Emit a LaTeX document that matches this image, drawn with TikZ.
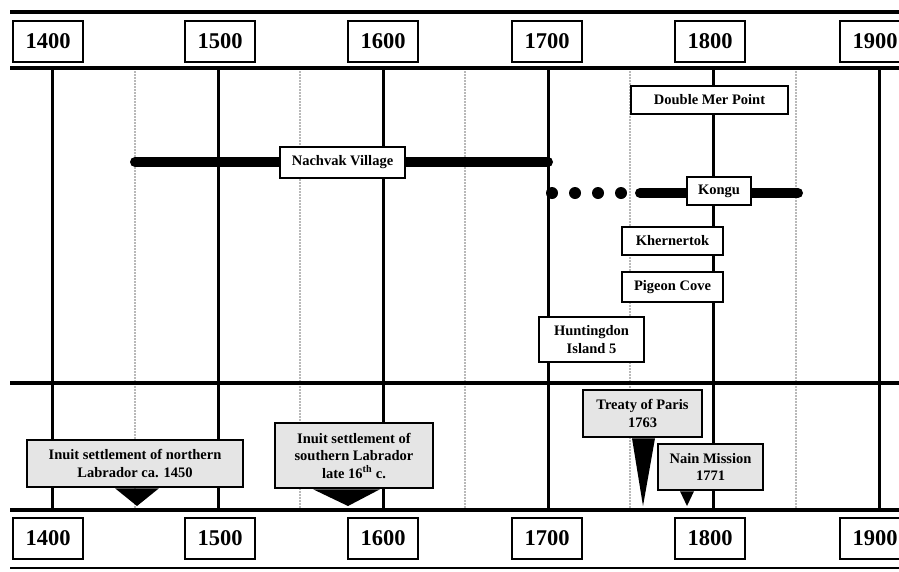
\documentclass[tikz,border=0pt]{standalone}
\usepackage{fontspec}
\setmainfont{Liberation Serif}
\usepackage{tikz}

\begin{document}
\begin{tikzpicture}[x=1pt,y=-1pt,
  yearbox/.style={draw,line width=2.5pt,fill=white,minimum width=70pt,minimum height=41pt,inner sep=0pt,font=\fontsize{22.5}{24}\selectfont\bfseries},
  sitebox/.style={draw,line width=2.5pt,fill=white,minimum height=28pt,inner sep=1pt,align=center,font=\fontsize{14.5}{17.5}\selectfont\bfseries},
  callout/.style={sitebox,fill=black!10},
  century/.style={line width=3pt},
  halfcentury/.style={gray!55,line width=2pt,dash pattern=on 1.5pt off 1.5pt},
  rowline/.style={line width=4pt},
  span/.style={line width=10pt,line cap=round}]
  \useasboundingbox (0,0) rectangle (899,571);
  \foreach \x in {135,300,465,630,796} \draw[halfcentury] (\x,68) -- (\x,510);
  \foreach \x in {52,218,383,548,713,879} \draw[century] (\x,68) -- (\x,510);
  \foreach \y in {12,68,383,510} \draw[rowline] (10,\y) -- (899,\y);
  \draw[line width=1.5pt] (10,568) -- (899,568);
  \foreach \yr/\x in {1400/48,1500/220,1600/383,1700/547,1800/710,1900/875} {
    \node[yearbox] (top\yr) at (\x,41.5) {\yr};
    \node[yearbox] (bot\yr) at (\x,538.5) {\yr};
  }

  \draw[span] (135,162) -- (548,162);
  \node[sitebox,minimum width=125pt,minimum height=31pt] (nachvak) at (342.5,162.5) {Nachvak Village};
  \foreach \x in {552,575,598,621} \fill (\x,193) circle (6);
  \draw[span] (640,193) -- (798,193);
  \node[sitebox,minimum width=64pt] (kongu) at (719,191) {Kongu};
  \node[sitebox,minimum width=157pt] (doublemer) at (709.5,100) {Double Mer Point};
  \node[sitebox,minimum width=101pt] (khernertok) at (672.5,241) {Khernertok};
  \node[sitebox,minimum width=101pt,minimum height=30pt] (pigeon) at (672.5,287) {Pigeon Cove};
  \node[sitebox,minimum width=105pt,minimum height=45pt] (huntingdon) at (591.5,339.5) {Huntingdon\\Island 5};

  \node[callout,minimum width=216pt,minimum height=47pt] (north) at (135,463.5) {Inuit settlement of northern\\Labrador ca. 1450};
  \coordinate (northtip) at (137,506);
  \fill ([xshift=-20pt]north.south) -- (northtip) -- ([xshift=24pt]north.south) -- cycle;
  \node[callout,minimum width=158pt,minimum height=65pt] (south) at (354,455.5) {Inuit settlement of\\southern Labrador\\late 16\textsuperscript{th} c.};
  \coordinate (southtip) at (348,506);
  \fill ([xshift=-41pt]south.south) -- (southtip) -- ([xshift=26pt]south.south) -- cycle;
  \node[callout,minimum width=119pt,minimum height=47pt] (treaty) at (642.5,413.5) {Treaty of Paris\\1763};
  \coordinate (treatytip) at (643,506);
  \fill ([xshift=-10.5pt]treaty.south) -- (treatytip) -- ([xshift=12.5pt]treaty.south) -- cycle;
  \node[callout,minimum width=105pt,minimum height=46pt] (nain) at (710.5,467) {Nain Mission\\1771};
  \coordinate (naintip) at (687,506);
  \fill ([xshift=-30.5pt]nain.south) -- (naintip) -- ([xshift=-16.5pt]nain.south) -- cycle;
\end{tikzpicture}
\end{document}
